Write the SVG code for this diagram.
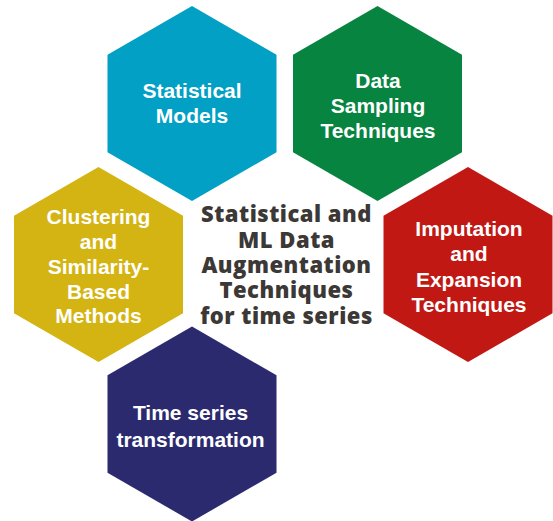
<svg xmlns="http://www.w3.org/2000/svg" width="553" height="521" viewBox="0 0 553 521">
<style>
.lbl{font-family:"Liberation Sans",Arial,sans-serif;font-weight:700;font-size:21px;fill:#ffffff;text-anchor:middle}
.ctr{font-family:"Open Sans","Liberation Sans",sans-serif;font-weight:800;font-size:22px;letter-spacing:0.5px;fill:#3b3835;text-anchor:middle}
</style>
<defs>
<polygon id="hex" points="0,-97.5 84.5,-48.75 84.5,48.75 0,97.5 -84.5,48.75 -84.5,-48.75"/>
</defs>
<rect width="553" height="521" fill="#ffffff"/>
<g id="connectors"></g>
<g id="statistical-models">
<use href="#hex" transform="translate(192,103.5)" fill="#02a0c4"/>
<text class="lbl" x="192" y="98">Statistical</text>
<text class="lbl" x="192" y="123">Models</text>
</g>
<g id="data-sampling">
<use href="#hex" transform="translate(377.5,103.5)" fill="#068440"/>
<text class="lbl" x="378" y="87.5">Data</text>
<text class="lbl" x="378" y="112.5">Sampling</text>
<text class="lbl" x="378" y="137.5">Techniques</text>
</g>
<g id="clustering">
<use href="#hex" transform="translate(98.5,264.5)" fill="#d4b412"/>
<text class="lbl" x="98.5" y="224">Clustering</text>
<text class="lbl" x="98.5" y="248.5">and</text>
<text class="lbl" x="98.5" y="273.5">Similarity-</text>
<text class="lbl" x="98.5" y="298.5">Based</text>
<text class="lbl" x="98.5" y="323">Methods</text>
</g>
<g id="imputation">
<use href="#hex" transform="translate(468,264.5)" fill="#c11814"/>
<text class="lbl" x="469" y="236">Imputation</text>
<text class="lbl" x="469" y="261">and</text>
<text class="lbl" x="469" y="286.5">Expansion</text>
<text class="lbl" x="469" y="311.5">Techniques</text>
</g>
<g id="time-series-transformation">
<use href="#hex" transform="translate(192,424)" fill="#2b2a6f"/>
<text class="lbl" x="190.5" y="420">Time series</text>
<text class="lbl" x="190.5" y="446.5">transformation</text>
</g>
<g id="center">
<text class="ctr" x="286.5" y="222"><tspan x="286.5" y="222">Statistical and</tspan><tspan x="286.5" y="247.5">ML Data</tspan><tspan x="286.5" y="273">Augmentation</tspan><tspan x="286.5" y="298">Techniques</tspan><tspan x="286.5" y="323.5">for time series</tspan></text>
</g>
</svg>
